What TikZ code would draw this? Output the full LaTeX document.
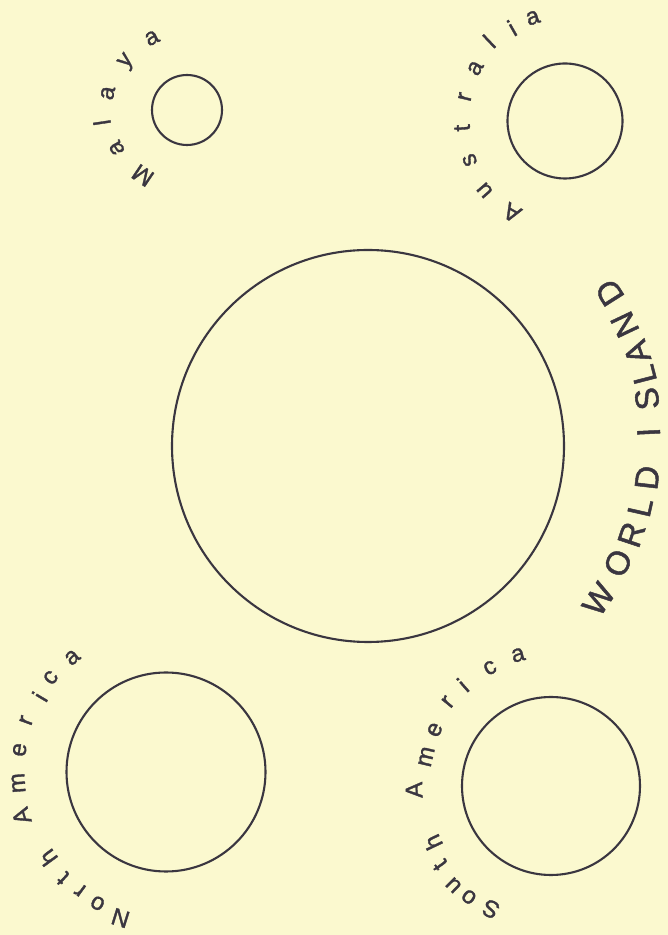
\documentclass[tikz,border=0pt]{standalone}
\usepackage{fontspec}
\setmainfont{Liberation Sans}
\newfontfamily\handfont{Liberation Sans}[FakeBold=1.4]
\definecolor{paper}{RGB}{251,249,207}
\definecolor{ink}{RGB}{58,54,64}
\begin{document}
\begin{tikzpicture}[x=1pt,y=1pt,
  land/.style={circle,draw=ink,line width=2.1pt,inner sep=0pt},
  lt/.style={text=ink,inner sep=0pt,font=\handfont\fontsize{24}{24}\selectfont},
  bigletter/.style={text=ink,inner sep=0pt,font=\handfont\fontsize{33}{33}\selectfont}]
\fill[paper] (0,0) rectangle (668,935);
\useasboundingbox (0,0) rectangle (668,935);
% circles
\node[land,minimum size=392pt] (wi) at (368,489) {};
\node[land,minimum size=70pt] (mal) at (187,825) {};
\node[land,minimum size=115pt] (aus) at (565,814) {};
\node[land,minimum size=199pt] (nam) at (166,163) {};
\node[land,minimum size=178pt] (sam) at (551,149) {};
% Malaya
\foreach \ang/\rad/\ch [count=\i] in {236/79/M,208.5/80/a,188.5/86/l,168/81/a,141.3/77/y,116/80/a}
  \node[lt,rotate=\ang-90] (mal\i) at ([shift={(\ang:\rad)}]mal.center) {\ch};
% Australia
\foreach \ang/\rad/\ch [count=\i] in {240/106/A,220.8/106/u,202.3/103/s,183.9/103/t,166.5/103/r,149.5/104/a,133.6/110/l,119.7/107/i,107.3/108/a}
  \node[lt,rotate=\ang-90] (aus\i) at ([shift={(\ang:\rad)}]aus.center) {\ch};
% North America
\foreach \ang/\rad/\ch [count=\i] in {252.7/153/N,242.5/148/o,234/146/r,226/148/t,216/146/h,197/151/A,184.3/148/m,171.4/148/e,159.8/149/r,149.2/147/i,140.7/149/c,129.3/148/a}
  \node[lt,rotate=\ang-90] (nam\i) at ([shift={(\ang:\rad)}]nam.center) {\ch};
% South America
\foreach \ang/\rad/\ch [count=\i] in {244/137/S,233.5/138/o,225.5/139/u,215.5/136/t,205.5/131/h,181.7/137/A,166.8/128/m,154.2/129/e,140.8/133/r,131.1/134/i,117.3/133/c,104.1/135/a}
  \node[lt,rotate=\ang-90] (sam\i) at ([shift={(\ang:\rad)}]sam.center) {\ch};
% World Island
\foreach \ang/\rad/\ch [count=\i] in {-33.6/277/W,-25.1/276/O,-18.6/278/R,-12.7/279/L,-6.5/281/D,2.8/281/I,9.6/283/S,14.5/285/L,19.2/285/A,25.3/284/N,32.4/286/D}
  \node[bigletter,rotate=\ang+90] (wi\i) at ([shift={(\ang:\rad)}]wi.center) {\ch};
\end{tikzpicture}
\end{document}
